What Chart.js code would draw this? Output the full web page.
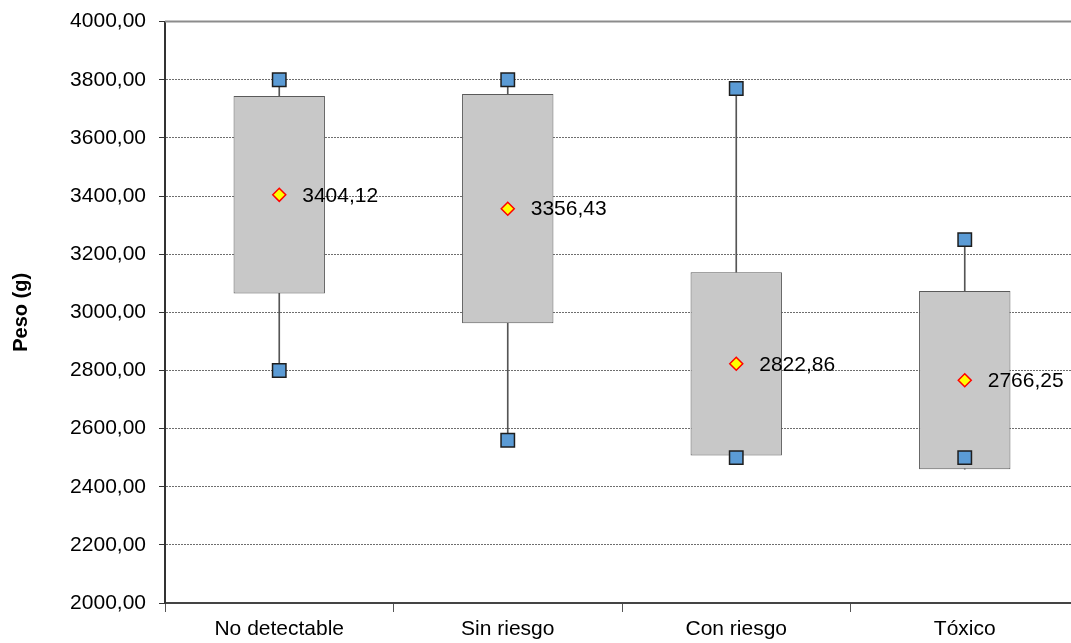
<!DOCTYPE html>
<html>
<head>
<meta charset="utf-8">
<script src="https://cdn.jsdelivr.net/npm/chart.js@4.4.1/dist/chart.umd.min.js"></script>
<style>
  html, body { margin: 0; padding: 0; background: #fff; overflow: hidden; }
  #wrap { position: relative; width: 1071px; height: 643px; overflow: hidden; }
  #box-chart { position: absolute; left: 0; top: -4px; }
</style>
</head>
<body>
<div id="wrap"><canvas id="box-chart" width="1090" height="647"></canvas></div>
<script>
// ----------------- Chart data ------------------------//
const categories = ['No detectable', 'Sin riesgo', 'Con riesgo', 'Tóxico']
const minValues = [2800, 2560, 2500, 2500]
const q1Values = [3065, 2962, 2507, 2460]
const q3Values = [3744, 3751, 3138, 3073]
const maxValues = [3800, 3800, 3770, 3250]
const meanValues = [3404.12, 3356.43, 2822.86, 2766.25]
const yMin = 2000
const yMax = 4000
const yStep = 200

// format like "3404,12"
const fmt = (v) => Number(v).toFixed(2).replace('.', ',')

// floating bars [from, to] built from the arrays above
const boxes = categories.map((c, i) => [q1Values[i], q3Values[i]])
const upperWhisker = categories.map((c, i) => [q3Values[i], maxValues[i]])
const lowerWhisker = categories.map((c, i) => [minValues[i], q1Values[i]])

Chart.defaults.font.family = '"Liberation Sans", Arial, sans-serif'
Chart.defaults.color = '#000'

// mean labels + top frame line
const extras = {
  id: 'extras',
  beforeDatasetsDraw(chart) {
    const { ctx, chartArea } = chart
    ctx.save()
    ctx.strokeStyle = '#8c8c8c'
    ctx.lineWidth = 2
    ctx.beginPath()
    ctx.moveTo(chartArea.left, chartArea.top)
    ctx.lineTo(chartArea.right, chartArea.top)
    ctx.stroke()
    ctx.restore()
  },
  afterDatasetsDraw(chart) {
    const { ctx } = chart
    const meta = chart.getDatasetMeta(5)
    ctx.save()
    ctx.font = '21px "Liberation Sans", Arial, sans-serif'
    ctx.fillStyle = '#000'
    ctx.textAlign = 'left'
    ctx.textBaseline = 'middle'
    meta.data.forEach((pt, i) => {
      ctx.fillText(fmt(meanValues[i]), pt.x + 23, pt.y + 1)
    })
    ctx.restore()
  },
}

const whisker = {
  type: 'bar',
  grouped: false,
  barThickness: 1,
  backgroundColor: '#555555',
  borderWidth: 0,
  order: 5,
}

const chart = new Chart(document.getElementById('box-chart'), {
  data: {
    labels: categories,
    datasets: [
      { ...whisker, label: 'upper', data: upperWhisker },
      { ...whisker, label: 'lower', data: lowerWhisker },
      {
        type: 'bar',
        label: 'box',
        data: boxes,
        grouped: false,
        categoryPercentage: 1,
        barPercentage: 0.4,
        backgroundColor: '#c8c8c8',
        borderColor: '#5a5a5a',
        borderWidth: 1,
        borderSkipped: false,
        order: 4,
      },
      {
        type: 'line',
        label: 'max',
        data: maxValues,
        showLine: false,
        pointStyle: 'rect',
        pointRadius: 9.5,
        pointBackgroundColor: '#5b9bd5',
        pointBorderColor: '#1e1e1e',
        pointBorderWidth: 1.5,
        order: 2,
      },
      {
        type: 'line',
        label: 'min',
        data: minValues,
        showLine: false,
        pointStyle: 'rect',
        pointRadius: 9.5,
        pointBackgroundColor: '#5b9bd5',
        pointBorderColor: '#1e1e1e',
        pointBorderWidth: 1.5,
        order: 2,
      },
      {
        type: 'line',
        label: 'mean',
        data: meanValues,
        showLine: false,
        pointStyle: 'rectRot',
        pointRadius: 6.5,
        pointBackgroundColor: '#ffff00',
        pointBorderColor: '#ff0000',
        pointBorderWidth: 1.5,
        order: 1,
      },
    ],
  },
  options: {
    responsive: false,
    animation: false,
    events: [],
    layout: { padding: { top: 20, right: 0, bottom: 0, left: 0 } },
    plugins: {
      legend: { display: false },
      tooltip: { enabled: false },
    },
    scales: {
      x: {
        type: 'category',
        offset: true,
        grid: {
          offset: true,
          drawOnChartArea: false,
          drawTicks: true,
          tickLength: 9,
          tickColor: '#555',
          tickWidth: 1,
        },
        border: { color: '#444', width: 2 },
        ticks: { font: { size: 21 }, color: '#000', padding: 5 },
        afterFit: (scale) => {
          scale.height = 40
        },
      },
      y: {
        min: yMin,
        max: yMax,
        ticks: {
          stepSize: yStep,
          font: { size: 21 },
          color: '#000',
          padding: 13,
          callback: (v) => fmt(v),
        },
        grid: {
          color: '#6e6e6e',
          lineWidth: 1,
          tickLength: 6,
          tickColor: '#333',
          tickBorderDash: [],
        },
        border: { color: '#333', width: 2, dash: [2, 1] },
        title: {
          display: true,
          text: 'Peso (g)',
          font: { size: 20, weight: 'bold' },
          color: '#000',
          padding: { top: 9, bottom: 0 },
        },
        afterFit: (scale) => {
          scale.width = 165
        },
      },
    },
  },
  plugins: [extras],
})
</script>
</body>
</html>
